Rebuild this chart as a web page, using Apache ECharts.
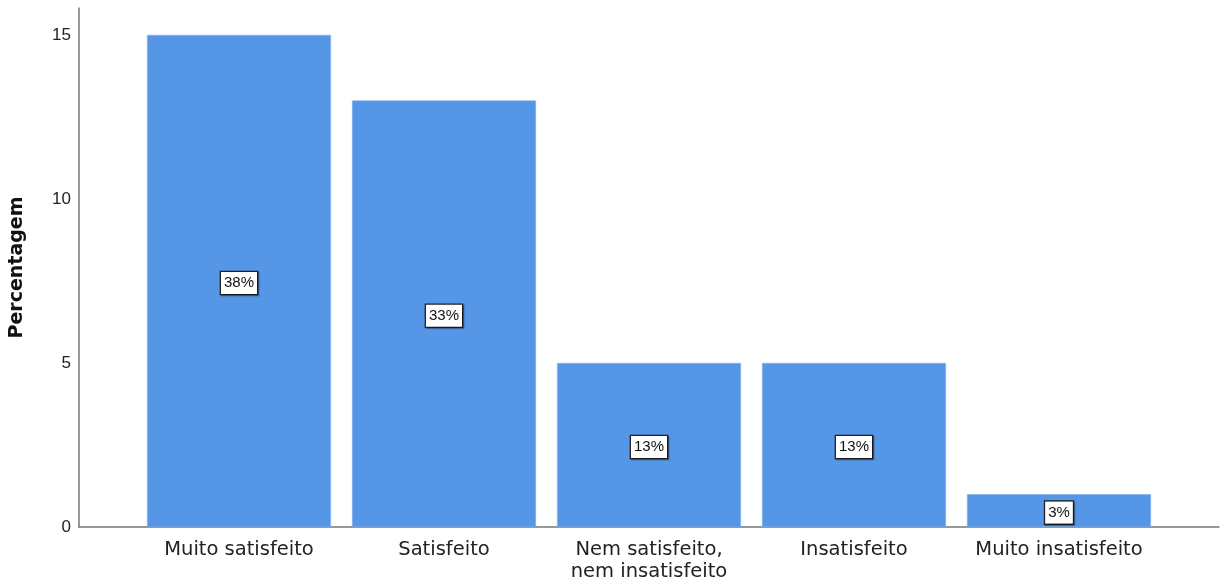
<!DOCTYPE html>
<html>
<head>
<meta charset="utf-8">
<script src="https://cdn.jsdelivr.net/npm/echarts@6/dist/echarts.min.js"></script>
<style>html,body{margin:0;padding:0;background:#fff;}#c{width:1223px;height:584px;}</style>
</head>
<body>
<div id="c"></div>
<script>
const categories = ['Muito satisfeito', 'Satisfeito', 'Nem satisfeito,\nnem insatisfeito', 'Insatisfeito', 'Muito insatisfeito'];
const values = [15, 13, 5, 5, 1];
const percentLabels = ['38%', '33%', '13%', '13%', '3%'];
const yTicks = [0, 5, 10, 15];
const yAxisTitle = 'Percentagem';

const chart = echarts.init(document.getElementById('c'), null, {renderer: 'canvas'});
const yMax = 15.82;
const arialLike = '"Liberation Sans", Arial, sans-serif';
chart.setOption({
  animation: false,
  grid: [
    {left: 79, right: 4, top: 8, bottom: 57, containLabel: false},
    {left: 136.5, right: 61.5, top: 8, bottom: 57, containLabel: false}
  ],
  xAxis: [
    {gridIndex: 0, type: 'value', min: 0, max: 1, axisLine: {show: true, lineStyle: {color: '#777', width: 1.5}},
     axisTick: {show: false}, axisLabel: {show: false}, splitLine: {show: false}},
    {gridIndex: 1, type: 'category', data: categories, axisLine: {show: false}, axisTick: {show: false},
     axisLabel: {color: '#222', fontSize: 19.5, fontFamily: '"DejaVu Sans", sans-serif', margin: 12, lineHeight: 22, interval: 0}}
  ],
  yAxis: [
    {gridIndex: 0, type: 'value', min: 0, max: yMax, interval: 5,
     axisLine: {show: true, lineStyle: {color: '#777', width: 1.5}}, axisTick: {show: false}, splitLine: {show: false},
     axisLabel: {color: '#222', fontSize: 17, fontFamily: arialLike, margin: 8,
       formatter: v => yTicks.includes(v) ? String(v) : ''},
     name: yAxisTitle, nameLocation: 'middle', nameGap: 52, nameRotate: 90,
     nameTextStyle: {color: '#111', fontSize: 19, fontWeight: 'bold', fontFamily: '"DejaVu Sans", sans-serif'}},
    {gridIndex: 1, type: 'value', min: 0, max: yMax, show: false}
  ],
  series: [{
    type: 'bar', xAxisIndex: 1, yAxisIndex: 1, data: values, barWidth: 184,
    itemStyle: {color: '#5596e6', borderColor: '#7fb0ee', borderWidth: 0.6},
    label: {show: true, position: 'inside', formatter: p => percentLabels[p.dataIndex], offset: [0, 2],
      color: '#111', fontSize: 15, fontFamily: arialLike,
      backgroundColor: '#fff', borderColor: '#222', borderWidth: 1.3, padding: [4, 3, 3, 3],
      shadowColor: 'rgba(0,0,0,0.35)', shadowOffsetX: 1, shadowOffsetY: 1, shadowBlur: 1}
  }]
});
</script>
</body>
</html>
